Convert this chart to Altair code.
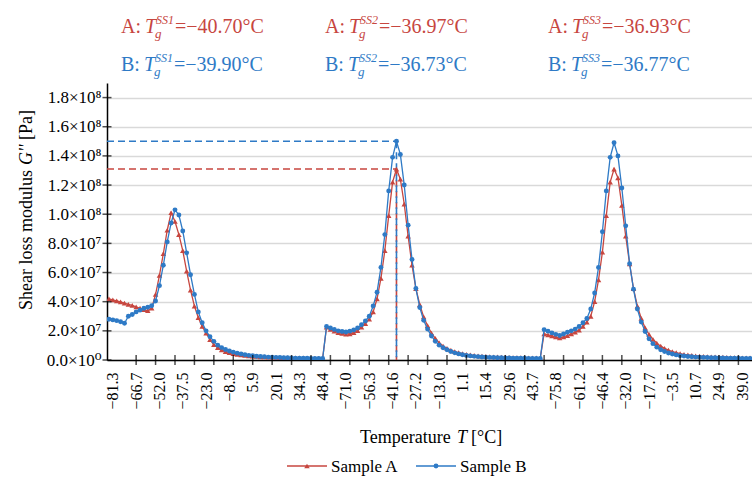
import altair as alt
import pandas as pd

# Shear loss modulus G'' in units of 1e7 Pa, one value per measurement point.
# The three temperature sweeps SS1, SS2 and SS3 follow each other on one axis.
a_ss1 = [4.20, 4.12, 4.05, 3.98, 3.90, 3.82, 3.74, 3.65, 3.55, 3.45,
         3.38, 3.55, 4.50, 5.80, 7.30, 8.90, 10.10, 9.50, 8.60, 7.50,
         6.10, 4.80, 3.70, 2.90, 2.30, 1.85, 1.40, 1.05, 0.85, 0.70,
         0.58, 0.50, 0.44, 0.39, 0.35, 0.31, 0.28, 0.26, 0.24, 0.22,
         0.21, 0.20, 0.19, 0.18, 0.17, 0.16, 0.16, 0.15, 0.15, 0.14,
         0.14, 0.13, 0.13, 0.12, 0.12, 0.12]
a_ss2 = [2.25, 2.10, 1.98, 1.88, 1.82, 1.78, 1.80, 1.88, 2.02, 2.25,
         2.50, 2.80, 3.30, 4.20, 5.60, 7.50, 9.90, 12.20, 13.10, 12.40,
         10.70, 8.50, 6.50, 4.90, 3.80, 2.95, 2.35, 1.85, 1.48, 1.18,
         0.96, 0.80, 0.68, 0.58, 0.50, 0.44, 0.39, 0.35, 0.32, 0.29,
         0.27, 0.25, 0.23, 0.22, 0.21, 0.20, 0.19, 0.18, 0.17, 0.17,
         0.16, 0.15, 0.15, 0.14, 0.14, 0.13]
a_ss3 = [1.80, 1.72, 1.65, 1.58, 1.52, 1.58, 1.68, 1.80, 1.92, 2.05,
         2.30, 2.60, 3.00, 4.00, 5.50, 7.40, 9.90, 12.20, 13.10, 12.50,
         10.60, 8.50, 6.60, 4.90, 3.70, 2.85, 2.20, 1.75, 1.42, 1.15,
         0.95, 0.80, 0.68, 0.58, 0.50, 0.44, 0.39, 0.35, 0.32, 0.29,
         0.27, 0.25, 0.23, 0.22, 0.21, 0.20, 0.19, 0.18, 0.17, 0.17,
         0.16, 0.15, 0.15, 0.14]
b_ss1 = [2.80, 2.75, 2.70, 2.62, 2.52, 3.00, 3.12, 3.30, 3.42, 3.55,
         3.62, 3.72, 4.05, 5.10, 6.50, 8.10, 9.40, 10.30, 9.95, 8.85,
         7.35, 5.85, 4.50, 3.30, 2.55, 2.00, 1.60, 1.28, 1.02, 0.85,
         0.72, 0.62, 0.54, 0.47, 0.41, 0.36, 0.32, 0.29, 0.26, 0.24,
         0.22, 0.20, 0.19, 0.18, 0.17, 0.16, 0.15, 0.14, 0.13, 0.13,
         0.12, 0.12, 0.11, 0.11, 0.10, 0.10]
b_ss2 = [2.30, 2.20, 2.10, 2.00, 1.95, 1.92, 1.98, 2.06, 2.20, 2.42,
         2.68, 3.00, 3.70, 4.65, 6.35, 8.60, 11.60, 13.90, 15.00, 14.10,
         12.00, 9.25, 6.90, 4.90, 3.60, 2.72, 2.12, 1.65, 1.28, 1.02,
         0.84, 0.70, 0.58, 0.49, 0.42, 0.36, 0.31, 0.28, 0.25, 0.23,
         0.21, 0.19, 0.18, 0.17, 0.16, 0.15, 0.14, 0.14, 0.13, 0.13,
         0.12, 0.12, 0.11, 0.11, 0.11, 0.10]
b_ss3 = [2.08, 1.98, 1.86, 1.76, 1.68, 1.78, 1.90, 2.00, 2.12, 2.30,
         2.55, 2.85, 3.50, 4.60, 6.35, 8.80, 11.60, 13.90, 14.90, 14.00,
         11.80, 9.20, 6.60, 4.86, 3.50, 2.60, 1.95, 1.45, 1.12, 0.88,
         0.70, 0.58, 0.48, 0.41, 0.35, 0.30, 0.27, 0.24, 0.22, 0.20,
         0.19, 0.18, 0.17, 0.16, 0.15, 0.14, 0.14, 0.13, 0.13, 0.12,
         0.12, 0.11, 0.11, 0.11]

# Temperatures printed under every sixth measurement point
temp_labels = ["−81.3", "−66.7", "−52.0", "−37.5", "−23.0", "−8.3", "5.9", "20.1", "34.3", "48.4",
               "−71.0", "−56.3", "−41.6", "−27.2", "−13.0", "1.1", "15.4", "29.6", "43.7",
               "−75.8", "−61.2", "−46.4", "−32.0", "−17.7", "−3.5", "10.7", "24.9", "39.0"]
LABEL_FIRST, LABEL_STEP = 1, 6
TICK_FIRST, TICK_STEP = 7, 5

y_ticks = [0, 2e7, 4e7, 6e7, 8e7, 1e8, 1.2e8, 1.4e8, 1.6e8, 1.8e8]
y_labels = ["0.0×10⁰", "2.0×10⁷", "4.0×10⁷", "6.0×10⁷", "8.0×10⁷",
            "1.0×10⁸", "1.2×10⁸", "1.4×10⁸", "1.6×10⁸", "1.8×10⁸"]
Y_MAX = 1.9e8

samples = ["Sample A", "Sample B"]
sweeps = ["SS1", "SS2", "SS3"]
tg_a = ["−40.70", "−36.97", "−36.93"]
tg_b = ["−39.90", "−36.73", "−36.77"]

RED = "#C7463F"
BLUE = "#2E7AC6"
FONT = "Times New Roman, Liberation Serif, DejaVu Serif, serif"
W, H = 645, 277

g_a = a_ss1 + a_ss2 + a_ss3
g_b = b_ss1 + b_ss2 + b_ss3
n = len(g_a)
df_a = pd.DataFrame({"point": list(range(n)), "G": [v * 1e7 for v in g_a]})
df_b = pd.DataFrame({"point": list(range(n)), "G": [v * 1e7 for v in g_b]})

label_points = [LABEL_FIRST + LABEL_STEP * k for k in range(len(temp_labels))]
x_expr = ("[" + ",".join("'%s'" % t for t in temp_labels) + "]"
          + "[round((datum.value - %d) / %d)]" % (LABEL_FIRST, LABEL_STEP))
y_expr = ("[" + ",".join("'%s'" % t for t in y_labels) + "]"
          + "[round(datum.value / %g)]" % y_ticks[1])

x_scale = alt.Scale(domain=[-0.5, n - 0.5], nice=False, zero=False)
y_scale = alt.Scale(domain=[0, Y_MAX], nice=False)

x_axis = alt.Axis(values=label_points, labelExpr=x_expr, labelAngle=270,
                  labelFont=FONT, labelFontSize=16, labelColor="black",
                  labelPadding=12, labelOverlap=False, ticks=False, grid=False,
                  domainColor="black", domainWidth=1.5, title=None)
y_axis = alt.Axis(values=y_ticks, labelExpr=y_expr, labelFont=FONT,
                  labelFontSize=17, labelColor="black", labelPadding=6,
                  ticks=False, grid=True, gridColor="#D9D9D9", gridWidth=1.3,
                  domainColor="black", domainWidth=1.5, title=None)

X = alt.X("point:Q", scale=x_scale, axis=x_axis)
Y = alt.Y("G:Q", scale=y_scale, axis=y_axis)

layers = []

# dashed guides to the SS2 peaks
for g, col in ((a_ss2, RED), (b_ss2, BLUE)):
    peak = max(g)
    at = len(a_ss1) + g.index(peak)
    pk = pd.DataFrame({"point": [-0.5], "point2": [at], "G": [peak * 1e7],
                       "base": [0.0], "at": [at]})
    layers.append(alt.Chart(pk).mark_rule(color=col, strokeWidth=1.6, strokeDash=[7, 4])
                  .encode(x=X, x2="point2:Q", y=Y))
    layers.append(alt.Chart(pk).mark_rule(color=col, strokeWidth=1.6, strokeDash=[7, 4])
                  .encode(x=alt.X("at:Q", scale=x_scale, axis=x_axis), y=Y, y2="base:Q"))

# the two samples
for df, col, shape, size in ((df_a, RED, "triangle-up", 30), (df_b, BLUE, "circle", 24)):
    layers.append(alt.Chart(df).mark_line(color=col, strokeWidth=1.3, clip=True)
                  .encode(x=X, y=Y))
    layers.append(alt.Chart(df).mark_point(shape=shape, filled=True, size=size, color=col,
                                           opacity=1, clip=True)
                  .encode(x=X, y=Y))

# cross-style tick marks on both axes
xt = pd.DataFrame({"point": list(range(TICK_FIRST, n, TICK_STEP))})
xt["G"] = 0.0
layers.append(alt.Chart(xt).mark_tick(orient="vertical", size=10, thickness=1.5, color="black")
              .encode(x=X, y=Y))
yt = pd.DataFrame({"G": y_ticks})
yt["point"] = -0.5
layers.append(alt.Chart(yt).mark_tick(orient="horizontal", size=9, thickness=1.5, color="black")
              .encode(x=X, y=Y))


def txt(s, x, y, size, color="black", italic=False, angle=0, baseline="alphabetic"):
    return (alt.Chart(pd.DataFrame({"s": [s]}))
            .mark_text(font=FONT, fontSize=size, fontStyle="italic" if italic else "normal",
                       color=color, align="left", baseline=baseline, angle=angle)
            .encode(x=alt.value(x), y=alt.value(y), text="s:N"))


# glass transition temperatures above the plot
col_x = [14, 218, 441]
for tag, vals, col, yb, lead in (("A:", tg_a, RED, -50, 24), ("B:", tg_b, BLUE, -12, 23)):
    for k in range(3):
        x0 = col_x[k]
        layers.append(txt(tag, x0, yb, 20, col))
        layers.append(txt("T", x0 + lead, yb, 20, col, italic=True))
        layers.append(txt("g", x0 + lead + 10, yb + 5, 13, col, italic=True))
        layers.append(txt(sweeps[k], x0 + lead + 11, yb - 9, 12, col, italic=True))
        layers.append(txt("=" + vals[k] + "°C", x0 + lead + 30, yb, 20, col))

# axis titles
layers.append(txt("Temperature", 253, 360, 18))
layers.append(txt("T", 350, 360, 18, italic=True))
layers.append(txt("[°C]", 364, 360, 18))
layers.append(txt("Shear loss modulus", -80, 227, 18, angle=270, baseline="middle"))
layers.append(txt("G''", -80, 82, 18, italic=True, angle=270, baseline="middle"))
layers.append(txt("[Pa]", -80, 57, 18, angle=270, baseline="middle"))

# legend
one = pd.DataFrame({"k": [0]})
for name, col, shape, size, lx in ((samples[0], RED, "triangle-up", 30, 180),
                                   (samples[1], BLUE, "circle", 24, 309)):
    layers.append(alt.Chart(one).mark_rule(color=col, strokeWidth=1.3)
                  .encode(x=alt.value(lx), x2=alt.value(lx + 40), y=alt.value(383)))
    layers.append(alt.Chart(one).mark_point(shape=shape, filled=True, size=size, color=col,
                                            opacity=1)
                  .encode(x=alt.value(lx + 20), y=alt.value(383)))
    layers.append(txt(name, lx + 44, 389, 17))

chart = (alt.layer(*layers)
         .properties(width=W, height=H,
                     autosize=alt.AutoSizeParams(type="none"),
                     padding={"left": 107, "top": 83, "right": 0, "bottom": 130},
                     background="white")
         .configure_view(stroke=None))

chart.save("out.html", embed_options={"renderer": "svg", "actions": False})
